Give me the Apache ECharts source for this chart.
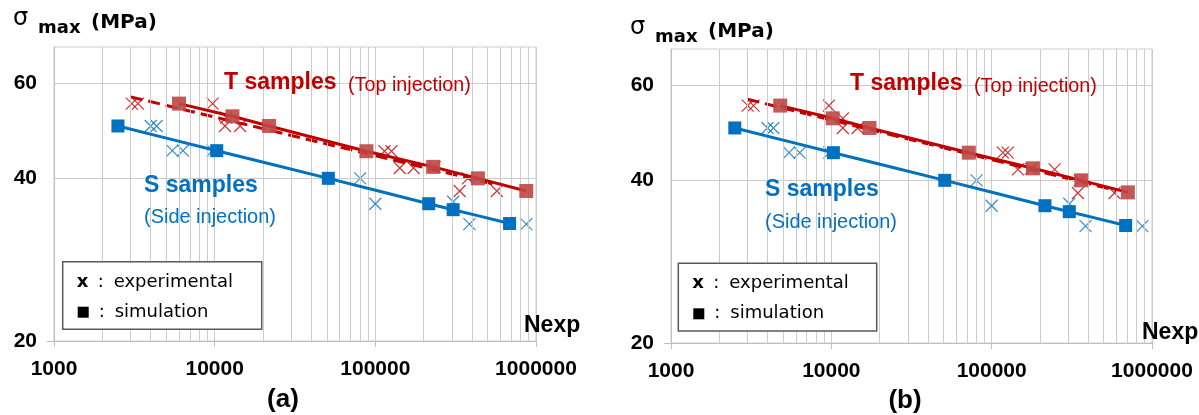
<!DOCTYPE html>
<html>
<head>
<meta charset="utf-8">
<script src="https://cdn.jsdelivr.net/npm/echarts@6/dist/echarts.min.js"></script>
<style>
html,body{margin:0;padding:0;background:#fff;}
#c{width:1199px;height:415px;}
</style>
</head>
<body>
<div id="c"></div>
<script>
// ---------- data ----------
// axis ticks / grid
const xLabelTicks = [1000, 10000, 100000, 1000000];
const xMinorGrid = [2000,3000,4000,5000,6000,7000,8000,9000,
                    20000,30000,40000,50000,60000,70000,80000,90000,
                    200000,300000,400000,500000,600000,700000,800000,900000];
const yLabelTicks = [20, 40, 60];
const yGrid = [40, 60];

// S samples (side injection) – same in both panels
const sSimN = [2500, 10300, 51000, 215000, 305000, 685000];
const sSimS = [50, 45, 40, 35.9, 35, 33];
const sExpN = [4000, 4350, 5450, 6350, 9700, 80500, 100000, 305000, 385000, 870000];
const sExpS = [50, 50, 45, 45, 45, 40, 35.9, 36.2, 32.9, 32.9];

// T samples panel (a)
const tSimNa = [6000, 12900, 21800, 88000, 229000, 435000, 870000];
const tSimSa = [55, 52.1, 50, 44.9, 42, 40, 37.9];
const tExpNa = [3050, 3330, 9700, 11800, 11600, 14400, 114000, 126000, 142000, 173000, 234000, 335000, 377000, 571000];
const tExpSa = [55, 55, 55, 51.8, 50, 50, 44.9, 44.9, 41.8, 41.8, 42, 37.9, 40, 37.9];
const tFitNa = [3000, 570000];
const tFitSa = [56.6, 38.9];

// T samples panel (b)
const tSimNb = [4800, 10200, 17300, 72000, 181000, 362000, 707000];
const tSimSb = [55, 52.1, 50, 45, 42.1, 40, 38];
const tExpNb = [3010, 3270, 9650, 11800, 11800, 14600, 117500, 126000, 145700, 176000, 247000, 345000, 355000, 584000];
const tExpSb = [55, 55, 55, 52.1, 50, 50, 45, 45, 41.9, 42, 41.9, 37.9, 40, 37.9];
const tFitNb = [3000, 600000];
const tFitSb = [56.5, 38.3];

// ---------- helpers ----------
const RED = '#C00000', BLUE = '#0070C0', RED_SQ = 'rgba(188,72,70,0.9)';
const GRIDC = '#cccccc', AXC = '#bfbfbf';
const CROSS = 'path://M0,0L10,10M10,0L0,10';
const zip = (a, b) => a.map((v, i) => [v, b[i]]);

function xAxisFor(gi) {
  return {
    type: 'log', logBase: 10, min: 1000, max: 1000000, gridIndex: gi,
    axisLine: {show: true, lineStyle: {color: AXC, width: 1}},
    axisTick: {show: true, length: 6, customValues: xLabelTicks, lineStyle: {color: AXC}},
    axisLabel: {customValues: xLabelTicks, fontFamily: 'Liberation Sans', fontWeight: 'bold', fontSize: 21, color: '#000', margin: 18,
                formatter: v => String(Math.round(v))},
    splitLine: {show: true, lineStyle: {color: GRIDC, width: 1}}
  };
}
function yAxisFor(gi) {
  return {
    type: 'log', logBase: 10, min: 20, max: 70, gridIndex: gi,
    axisLine: {show: true, lineStyle: {color: AXC, width: 1}},
    axisTick: {show: true, length: 7, customValues: [20], lineStyle: {color: AXC}},
    axisLabel: {customValues: yLabelTicks, fontFamily: 'Liberation Sans', fontWeight: 'bold', fontSize: 21, color: '#000', margin: 17,
                formatter: v => String(Math.round(v))},
    splitLine: {show: false}
  };
}
function seriesFor(gi, tSimN, tSimS, tExpN, tExpS, tFitN, tFitS) {
  return [
    { type: 'line', xAxisIndex: gi, yAxisIndex: gi, data: [], z: 1, silent: true,
      markLine: { silent: true, symbol: ['none', 'none'], label: {show: false}, animation: false,
        lineStyle: {color: GRIDC, width: 1, type: 'solid'},
        data: xMinorGrid.map(v => ({xAxis: v})).concat(yGrid.map(v => ({yAxis: v}))) } },
    { type: 'scatter', xAxisIndex: gi, yAxisIndex: gi, data: zip(sExpN, sExpS), z: 3,
      symbol: CROSS, symbolSize: 12,
      itemStyle: {color: 'rgba(0,0,0,0)', borderColor: BLUE, borderWidth: 1.2} },
    { type: 'scatter', xAxisIndex: gi, yAxisIndex: gi, data: zip(tExpN, tExpS), z: 3,
      symbol: CROSS, symbolSize: 12,
      itemStyle: {color: 'rgba(0,0,0,0)', borderColor: RED, borderWidth: 1.2} },
    { type: 'line', xAxisIndex: gi, yAxisIndex: gi, data: zip(tFitN, tFitS), z: 4,
      symbol: 'none', lineStyle: {color: RED, width: 3, type: [12, 6]} },
    { type: 'line', xAxisIndex: gi, yAxisIndex: gi, data: zip(sSimN, sSimS), z: 5,
      symbol: 'rect', symbolSize: 13, showAllSymbol: true, smooth: 0.15,
      lineStyle: {color: BLUE, width: 3}, itemStyle: {color: BLUE} },
    { type: 'line', xAxisIndex: gi, yAxisIndex: gi, data: zip(tSimN, tSimS), z: 5,
      symbol: 'rect', symbolSize: 14, showAllSymbol: true,
      lineStyle: {color: RED, width: 3}, itemStyle: {color: RED_SQ} }
  ];
}

function txt(x, y, text, font, fill, extra, align) {
  return Object.assign({
    type: 'text', x: x, y: y, z: 100,
    style: {text: text, font: font, fill: fill, textAlign: align || 'left', align: align || 'left',
            textVerticalAlign: 'middle', verticalAlign: 'middle'}
  }, extra || {});
}
function panelGraphics(o) {
  const g = [];
  // title
  g.push(txt(o.tx, o.ty - 1, '\u03c3', 'normal 24px "DejaVu Sans"', '#000'));
  g.push(txt(o.tx + 25, o.ty + 8, 'max', 'bold 18px "DejaVu Sans"', '#000'));
  g.push(txt(o.tx + 78, o.ty + 2.5, '(MPa)', 'bold 20px "DejaVu Sans"', '#000'));
  // annotations
  g.push(txt(o.T[0], o.T[1], 'T samples', 'bold 23px "Liberation Sans"', RED));
  g.push(txt(o.Ti[0], o.Ti[1], '(Top injection)', 'normal 21px "Liberation Sans"', RED, {scaleX: 0.94}));
  g.push(txt(o.S[0], o.S[1], 'S samples', 'bold 23px "Liberation Sans"', BLUE));
  g.push(txt(o.Si[0], o.Si[1], '(Side injection)', 'normal 21px "Liberation Sans"', BLUE, {scaleX: 0.95}));
  // legend box
  g.push({type: 'rect', z: 99, shape: {x: o.L[0], y: o.L[1], width: o.L[2], height: o.L[3]},
          style: {fill: '#fff', stroke: '#595959', lineWidth: 1.5}});
  g.push(txt(o.L[0] + 14, o.L[1] + 20.5, 'x', 'bold 18px "DejaVu Sans"', '#000'));
  g.push(txt(o.L[0] + 35, o.L[1] + 20.5, ':', 'normal 18px "DejaVu Sans"', '#000'));
  g.push(txt(o.L[0] + 51, o.L[1] + 20.5, 'experimental', 'normal 18px "DejaVu Sans"', '#000'));
  g.push({type: 'rect', z: 100, shape: {x: o.L[0] + 15, y: o.L[1] + 45, width: 11, height: 11}, style: {fill: '#000'}});
  g.push(txt(o.L[0] + 36, o.L[1] + 50.5, ':', 'normal 18px "DejaVu Sans"', '#000'));
  g.push(txt(o.L[0] + 52, o.L[1] + 50.5, 'simulation', 'normal 18px "DejaVu Sans"', '#000'));
  // Nexp + panel letter
  g.push(txt(o.N[0], o.N[1], 'Nexp', 'bold 23px "Liberation Sans"', '#000'));
  g.push(txt(o.P[0], o.P[1], o.P[2], 'bold 26px "Liberation Sans"', '#000', null, 'center'));
  return g;
}

const chart = echarts.init(document.getElementById('c'), null, {renderer: 'canvas'});
chart.setOption({
  animation: false,
  backgroundColor: '#fff',
  grid: [
    {left: 54, top: 47, width: 482, height: 294, show: true, borderColor: GRIDC, borderWidth: 1, backgroundColor: 'transparent'},
    {left: 671, top: 49, width: 481, height: 294, show: true, borderColor: GRIDC, borderWidth: 1, backgroundColor: 'transparent'}
  ],
  xAxis: [xAxisFor(0), xAxisFor(1)],
  yAxis: [yAxisFor(0), yAxisFor(1)],
  series: seriesFor(0, tSimNa, tSimSa, tExpNa, tExpSa, tFitNa, tFitSa)
    .concat(seriesFor(1, tSimNb, tSimSb, tExpNb, tExpSb, tFitNb, tFitSb)),
  graphic: {elements: panelGraphics({
      tx: 13, ty: 20, T: [224, 83], Ti: [348, 85.5], S: [144, 186], Si: [144, 217],
      L: [62.7, 261.7, 199, 67.6], N: [524, 326], P: [283, 400, '(a)']
    }).concat(panelGraphics({
      tx: 630, ty: 29, T: [850, 83.5], Ti: [974, 86], S: [765, 190], Si: [765, 222],
      L: [678.3, 263.3, 198.4, 67.7], N: [1142, 332.5], P: [905, 401, '(b)']
    }))}
});
</script>
</body>
</html>
